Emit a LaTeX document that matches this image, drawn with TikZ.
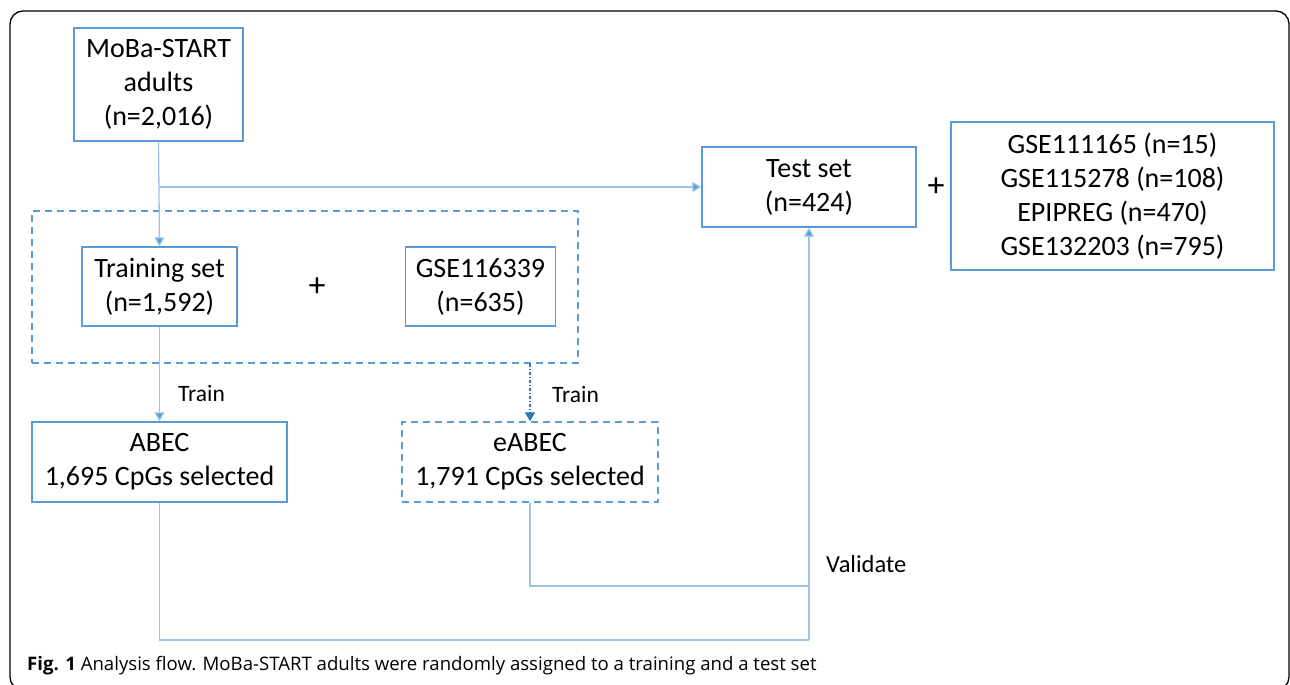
\documentclass[tikz,border=0pt]{standalone}
\usepackage{fontspec}
\setmainfont{Carlito}
\newfontfamily\capfont{Open Sans}
\usetikzlibrary{arrows.meta}
\definecolor{boxblue}{HTML}{5B9BD5}
\definecolor{lineblue}{HTML}{9DC3E6}
\definecolor{darkblue}{HTML}{2E75B6}
\begin{document}
\begin{tikzpicture}[x=1pt,y=-1pt,
  box/.style={draw=boxblue,line width=1.4pt,minimum width=#1,inner sep=0pt,align=center,font=\fontsize{28}{34}\selectfont},
  dbox/.style={draw=boxblue,line width=1.4pt,dash pattern=on 7pt off 5pt,minimum width=#1,inner sep=0pt,align=center,font=\fontsize{28}{34}\selectfont},
  conn/.style={draw=lineblue,line width=1.3pt},
  arr/.style={conn,-{Triangle[width=10pt,length=9pt,fill=boxblue]}},
  lbl/.style={font=\fontsize{23.5}{28}\selectfont,inner sep=0pt},
  plus/.style={font=\fontsize{34}{34}\selectfont,inner sep=0pt}
]
\useasboundingbox (0,0) rectangle (1290,685);
\begin{scope}
\clip (0,0) rectangle (1290,685);
\draw[black,line width=1.3pt,rounded corners=13pt] (10,11) rectangle (1289,690);
\end{scope}

\node[box=169pt,minimum height=113pt] (moba) at (158.5,84.5) {MoBa-START\\adults\\(n=2,016)};
\node[dbox=546pt,minimum height=152pt] (group) at (305,287) {};
\node[box=155pt,minimum height=79pt] (train) at (159.5,286.5) {Training set\\(n=1,592)};
\node[plus] (p1) at (317,287) {+};
\node[box=150pt,minimum height=79pt] (gse) at (480.5,286.5) {GSE116339\\(n=635)};
\node[box=214pt,minimum height=80pt] (test) at (809,187) {Test set\\(n=424)};
\node[plus] (p2) at (936,187) {+};
\node[box=323pt,minimum height=148pt] (ext) at (1112.5,196) {GSE111165 (n=15)\\GSE115278 (n=108)\\EPIPREG (n=470)\\GSE132203 (n=795)};
\node[box=255pt,minimum height=80pt] (abec) at (159.5,462) {ABEC\\1,695 CpGs selected};
\node[dbox=256pt,minimum height=80pt] (eabec) at (530,462) {eABEC\\1,791 CpGs selected};

\node[lbl,anchor=west] (t1) at (178,393) {Train};
\node[lbl,anchor=west] (t2) at (552,394) {Train};
\node[lbl,anchor=west,font=\fontsize{24.5}{28}\selectfont] (val) at (826,564) {Validate};

\coordinate (br) at (moba.south |- test.west);
\coordinate (dtop) at (eabec.north |- group.south);
\coordinate (bl) at (abec.south |- 0,640);
\coordinate (brr) at (test.south |- 0,640);
\coordinate (el) at (eabec.south |- 0,586);
\coordinate (er) at (test.south |- 0,586);

\draw[arr] (moba.south) -- (train.north);
\draw[arr] (br) -- (test.west);
\draw[arr] (train.south) -- (abec.north);
\draw[draw=darkblue,line width=1.2pt,dash pattern=on 3pt off 2pt on 1pt off 2pt,-{Triangle[width=10pt,length=9pt,fill=darkblue]}] (dtop) -- (eabec.north);
\draw[conn] (abec.south) -- (bl) -- (brr);
\draw[arr] (brr) -- (test.south);
\draw[conn] (eabec.south) -- (el) -- (er);

\node[anchor=west,inner sep=0pt,font=\capfont\fontsize{18.6}{22}\selectfont] (cap) at (27,666) {\textbf{Fig. 1} Analysis flow. MoBa-START adults were randomly assigned to a training and a test set};
\end{tikzpicture}
\end{document}
